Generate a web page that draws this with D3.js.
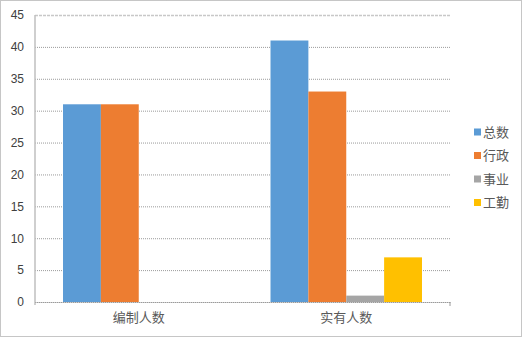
<!DOCTYPE html>
<html>
<head>
<meta charset="utf-8">
<script src="https://cdn.jsdelivr.net/npm/d3@7"></script>
<style>
  body { margin: 0; background: #fff; }
  svg { display: block; font-family: "Noto Sans CJK SC", "DejaVu Sans", sans-serif; }
</style>
</head>
<body>
<svg id="chart" width="522" height="337"></svg>
<script>
// data
var categories = ["编制人数", "实有人数"];
var seriesNames = ["总数", "行政", "事业", "工勤"];
var seriesColors = ["#5B9BD5", "#ED7D31", "#A5A5A5", "#FFC000"];
var zongshu = [31, 41];
var xingzheng = [31, 33];
var shiye = [0, 1];
var gongqin = [0, 7];
var yTicks = [0, 5, 10, 15, 20, 25, 30, 35, 40, 45];

var seriesValues = [zongshu, xingzheng, shiye, gongqin];

var svg = d3.select("#chart");
var margin = { left: 35, right: 72, top: 15, bottom: 35 };
var width = 522 - margin.left - margin.right,
    height = 337 - margin.top - margin.bottom;

// outer dotted border
svg.append("rect")
  .attr("x", 0.5).attr("y", 0.5)
  .attr("width", 521).attr("height", 336)
  .attr("fill", "none")
  .attr("stroke", "#8c8c8c")
  .attr("stroke-dasharray", "1,1");

var xScale = d3.scaleBand()
  .domain(categories)
  .range([margin.left, margin.left + width])
  .paddingInner(0.27)
  .paddingOuter(0.135);

var xSub = d3.scaleBand()
  .domain(seriesNames)
  .range([0, xScale.bandwidth()]);

var yScale = d3.scaleLinear()
  .domain([0, 45])
  .range([margin.top + height, margin.top]);

// gridlines
svg.append("g")
  .attr("class", "grid")
  .attr("transform", "translate(" + margin.left + ",0)")
  .call(d3.axisLeft(yScale).tickValues(yTicks).tickSize(-width).tickFormat(""))
  .call(function(g) {
    g.select(".domain").remove();
    g.selectAll("line")
      .attr("stroke", function(d) { return d === 45 ? "#c8c8c8" : "#9a9a9a"; })
      .attr("stroke-width", function(d) { return d === 45 ? 1.5 : 1; })
      .attr("stroke-dasharray", function(d) { return d === 45 ? "3,1" : "1,1"; });
  });

// bars
var groups = svg.append("g").selectAll("g")
  .data(categories)
  .enter()
  .append("g")
    .attr("transform", function(d) { return "translate(" + xScale(d) + ",0)"; });

groups.selectAll("rect")
  .data(function(d, i) {
    return seriesNames.map(function(s, j) { return { key: s, value: seriesValues[j][i], color: seriesColors[j] }; });
  })
  .enter()
  .append("rect")
    .attr("x", function(d) { return xSub(d.key); })
    .attr("y", function(d) { return yScale(d.value); })
    .attr("width", xSub.bandwidth())
    .attr("height", function(d) { return yScale(0) - yScale(d.value); })
    .attr("fill", function(d) { return d.color; });

// y axis line
svg.append("line")
  .attr("x1", margin.left).attr("x2", margin.left)
  .attr("y1", yScale(45)).attr("y2", yScale(0) + 3)
  .attr("stroke", "#bfbfbf")
  .attr("stroke-width", 1.5);

// x axis
svg.append("g")
  .attr("transform", "translate(0," + yScale(0) + ")")
  .call(d3.axisBottom(xScale).tickSize(0).tickPadding(11))
  .call(function(g) {
    g.select(".domain")
      .attr("stroke", "#9a9a9a")
      .attr("stroke-dasharray", "1,1");
    g.selectAll("text")
      .attr("fill", "#595959")
      .attr("font-size", "13px")
      .attr("font-family", "Noto Sans CJK SC");
  });
svg.append("line")
  .attr("x1", margin.left + width).attr("x2", margin.left + width)
  .attr("y1", yScale(0)).attr("y2", yScale(0) + 4)
  .attr("stroke", "#9a9a9a");

// y tick labels
svg.append("g")
  .attr("transform", "translate(" + margin.left + ",0)")
  .call(d3.axisLeft(yScale).tickValues(yTicks).tickSize(0).tickPadding(11))
  .call(function(g) {
    g.select(".domain").remove();
    g.selectAll("text")
      .attr("fill", "#404040")
      .attr("font-size", "12px")
      .attr("font-family", "Liberation Sans, sans-serif");
  });

// legend
var legend = svg.append("g")
  .attr("transform", "translate(474,132)");
var items = legend.selectAll("g")
  .data(seriesNames)
  .enter()
  .append("g")
    .attr("transform", function(d, i) { return "translate(0," + (i * 23.5) + ")"; });
items.append("rect")
  .attr("x", 0).attr("y", -3.5)
  .attr("width", 7).attr("height", 7)
  .attr("fill", function(d, i) { return seriesColors[i]; });
items.append("text")
  .attr("x", 9).attr("y", 0)
  .attr("dy", "0.35em")
  .attr("fill", "#595959")
  .attr("font-size", "13px")
  .text(function(d) { return d; });
</script>
</body>
</html>
